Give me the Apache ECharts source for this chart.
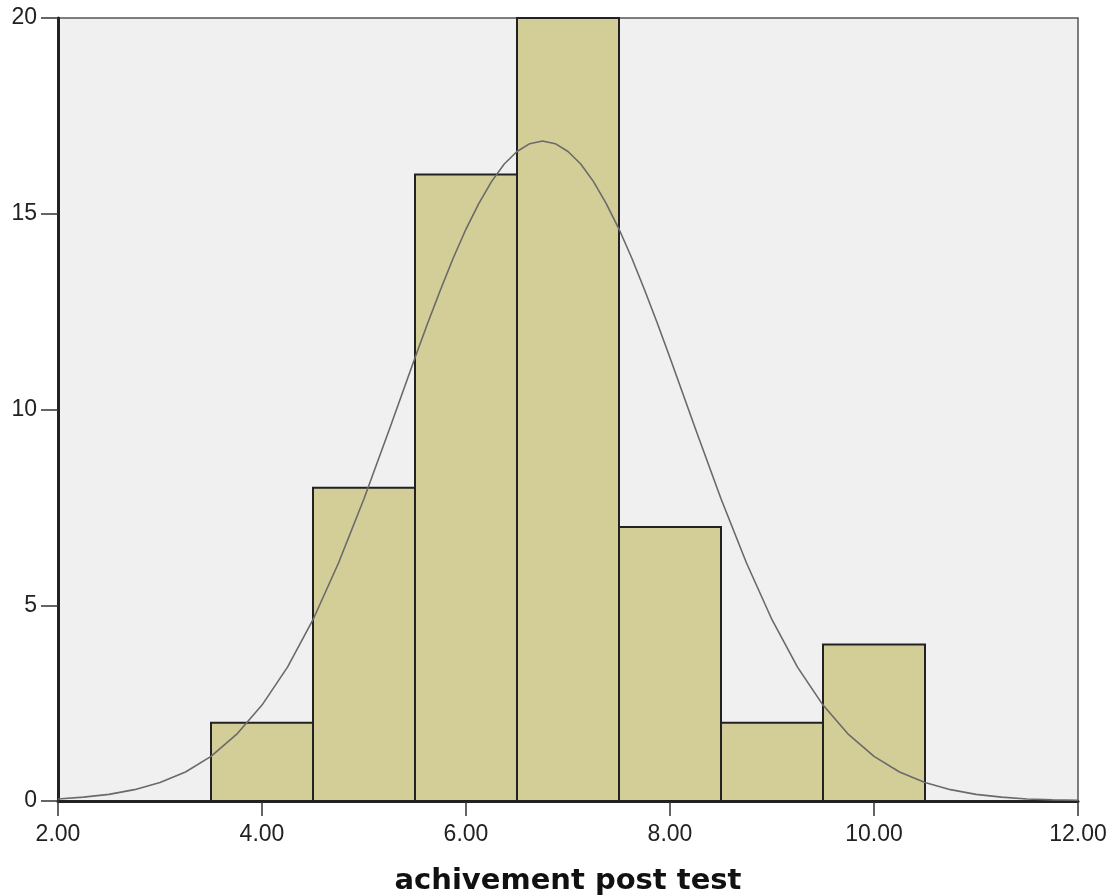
<!DOCTYPE html>
<html>
<head>
<meta charset="utf-8">
<script src="https://cdn.jsdelivr.net/npm/echarts@6/dist/echarts.min.js"></script>
<style>
html,body{margin:0;padding:0;background:#fff;}
#chart{width:1116px;height:895px;}
</style>
</head>
<body>
<div id="chart"></div>
<script>
// Histogram bins (start of each bin, width 1) and counts
const binStarts = [3.5, 4.5, 5.5, 6.5, 7.5, 8.5, 9.5];
const binWidth = 1;
const counts = [2, 8, 16, 20, 7, 2, 4];

// Normal curve points
const curveX = [2, 2.25, 2.5, 2.75, 3, 3.25, 3.5, 3.75, 4, 4.25, 4.5, 4.75, 5, 5.25, 5.5, 5.625, 5.75, 5.875, 6, 6.125, 6.25, 6.375, 6.5, 6.625, 6.75,
                6.875, 7, 7.125, 7.25, 7.375, 7.5, 7.625, 7.75, 7.875, 8, 8.25, 8.5, 8.75, 9, 9.25, 9.5, 9.75, 10, 10.25, 10.5, 10.75, 11, 11.25, 11.5, 11.75, 12];
const curveY = [0.05, 0.10, 0.17, 0.29, 0.47, 0.74, 1.14, 1.70, 2.45, 3.42, 4.63, 6.08, 7.72, 9.50, 11.32, 12.21, 13.06, 13.87, 14.61, 15.26, 15.82, 16.27, 16.59, 16.79, 16.86,
                16.79, 16.59, 16.27, 15.82, 15.26, 14.61, 13.87, 13.06, 12.21, 11.32, 9.50, 7.72, 6.08, 4.63, 3.42, 2.45, 1.70, 1.14, 0.74, 0.47, 0.29, 0.17, 0.10, 0.05, 0.03, 0.02];

const xTicks = ['2.00', '4.00', '6.00', '8.00', '10.00', '12.00'];
const xTitle = 'achivement post test';

const chart = echarts.init(document.getElementById('chart'), null, {renderer: 'canvas'});

const barData = binStarts.map((s, i) => [s, s + binWidth, counts[i]]);
const lineData = curveX.map((x, i) => [x, curveY[i]]);

chart.setOption({
  animation: false,
  backgroundColor: '#ffffff',
  grid: {
    left: 58, right: 38, top: 18, bottom: 94,
    containLabel: false, outerBoundsMode: 'none',
    show: true, backgroundColor: '#f0f0f0', borderColor: '#555555', borderWidth: 1.5
  },
  xAxis: {
    type: 'value', min: 2, max: 12, interval: 2,
    name: xTitle, nameLocation: 'middle', nameGap: 66,
    nameTextStyle: {fontFamily: 'DejaVu Sans', fontWeight: 'bold', fontSize: 29, color: '#111'},
    axisLine: {show: true, onZero: false, lineStyle: {color: '#222', width: 3}},
    axisTick: {show: true, length: 15, lineStyle: {color: '#333', width: 1.5}},
    axisLabel: {
      margin: 22, fontFamily: 'Liberation Sans', fontSize: 23, color: '#222',
      formatter: v => xTicks[Math.round((v - 2) / 2)]
    },
    splitLine: {show: false}
  },
  yAxis: {
    type: 'value', min: 0, max: 20, interval: 5,
    axisLine: {show: true, lineStyle: {color: '#222', width: 3}},
    axisTick: {show: true, length: 17, lineStyle: {color: '#333', width: 1.5}},
    axisLabel: {margin: 21, fontFamily: 'Liberation Sans', fontSize: 23, color: '#222'},
    splitLine: {show: false}
  },
  series: [
    {
      type: 'custom',
      data: barData,
      encode: {x: [0, 1], y: 2},
      z: 2,
      renderItem: function (params, api) {
        const p0 = api.coord([api.value(0), api.value(2)]);
        const p1 = api.coord([api.value(1), 0]);
        return {
          type: 'rect',
          shape: {x: p0[0], y: p0[1], width: p1[0] - p0[0], height: p1[1] - p0[1]},
          style: {fill: '#d3ce97', stroke: '#222222', lineWidth: 2}
        };
      }
    },
    {
      type: 'line',
      data: lineData,
      smooth: false,
      showSymbol: false,
      z: 3,
      lineStyle: {color: '#6a6a6a', width: 1.6}
    }
  ]
});
</script>
</body>
</html>
